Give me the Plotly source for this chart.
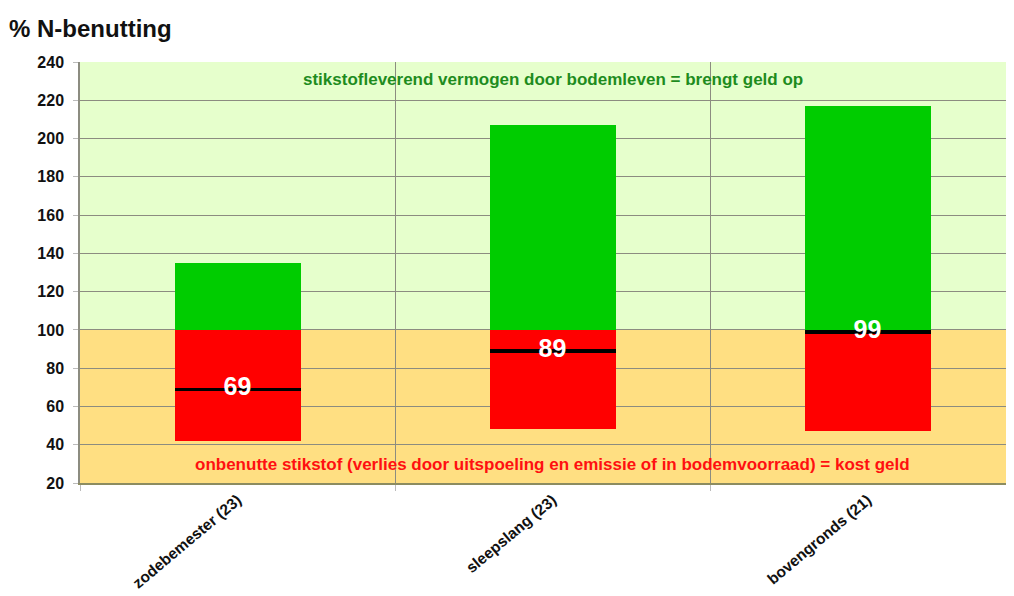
import plotly.graph_objects as go

categories = ["zodebemester (23)", "sleepslang (23)", "bovengronds (21)"]
low_values = [42, 48, 47]        # bottom of red part
threshold = [100, 100, 100]      # boundary red/green
high_values = [135, 207, 217]    # top of green part
median_values = [69, 89, 99]     # black line + label
y_ticks = list(range(20, 241, 20))

title_text = "% N-benutting"
green_note = "stikstofleverend vermogen door bodemleven = brengt geld op"
red_note = "onbenutte stikstof (verlies door uitspoeling en emissie of in bodemvoorraad) = kost geld"

FONT = "Liberation Sans, Arial, sans-serif"
BAR_W = 0.4
W, H = 1006, 588   # page has an 8px body margin

fig = go.Figure()

# red part: low -> 100
fig.add_trace(go.Bar(
    x=categories,
    y=[t - l for t, l in zip(threshold, low_values)],
    base=low_values,
    width=BAR_W,
    marker=dict(color="#FF0000", line=dict(width=0)),
    hoverinfo="skip", showlegend=False,
))
# green part: 100 -> high
fig.add_trace(go.Bar(
    x=categories,
    y=[h - t for h, t in zip(high_values, threshold)],
    base=threshold,
    width=BAR_W,
    marker=dict(color="#00CC00", line=dict(width=0)),
    hoverinfo="skip", showlegend=False,
))
# black median line
line_h = 1.8
fig.add_trace(go.Bar(
    x=categories,
    y=[line_h] * len(categories),
    base=[m - line_h / 2 for m in median_values],
    width=BAR_W,
    marker=dict(color="#000000", line=dict(width=0)),
    hoverinfo="skip", showlegend=False,
))
# median labels
fig.add_trace(go.Scatter(
    x=categories,
    y=median_values,
    mode="text",
    text=[str(m) for m in median_values],
    textposition="middle center",
    textfont=dict(family=FONT, size=25, color="white", weight="bold"),
    hoverinfo="skip", showlegend=False,
))

# background zones
fig.add_shape(type="rect", xref="paper", x0=0, x1=1, yref="y", y0=100, y1=240,
              fillcolor="#E6FFCC", line=dict(width=0), layer="below")
fig.add_shape(type="rect", xref="paper", x0=0, x1=1, yref="y", y0=20, y1=100,
              fillcolor="#FFDF82", line=dict(width=0), layer="below")

# zone notes
fig.add_annotation(x=categories[1], y=231, text=green_note, showarrow=False,
                   font=dict(family=FONT, size=17, color="#1E8C1E", weight="bold"),
                   xanchor="center", yanchor="middle")
fig.add_annotation(x=categories[1], y=29.5, text=red_note, showarrow=False,
                   font=dict(family=FONT, size=17, color="#FF1010", weight="bold"),
                   xanchor="center", yanchor="middle")

fig.update_layout(
    width=W, height=H,
    autosize=False,
    margin=dict(l=72, r=0, t=54, b=113, autoexpand=False),
    paper_bgcolor="white",
    plot_bgcolor="white",
    barmode="overlay",
    bargap=0,
    title=dict(text=title_text, x=0.001, xanchor="left", y=1 - 21 / H, yanchor="middle",
               font=dict(family=FONT, size=24, color="#111111", weight="bold")),
    font=dict(family=FONT),
)

fig.update_xaxes(
    range=[-0.5, 2.465],
    tickson="boundaries",
    showgrid=True, gridcolor="#8C8C80", gridwidth=1.2,
    ticks="outside", ticklen=6, tickcolor="#BBBBBB",
    tickangle=-40,
    tickfont=dict(family=FONT, size=15.5, color="#111111", weight="bold"),
    showline=True, linecolor="#8C8C60", linewidth=2,
    zeroline=False, automargin=False,
)
fig.update_yaxes(
    range=[20, 240],
    tickvals=y_ticks,
    showgrid=True, gridcolor="#8C8C80", gridwidth=1.4,
    ticks="outside", ticklen=5, tickcolor="#BBBBBB",
    ticklabelstandoff=6,
    tickfont=dict(family=FONT, size=16, color="#111111", weight="bold"),
    showline=True, linecolor="#8C8C80", linewidth=1.5,
    zeroline=False, automargin=False,
)

fig.write_html("out.html", config={"responsive": False})
